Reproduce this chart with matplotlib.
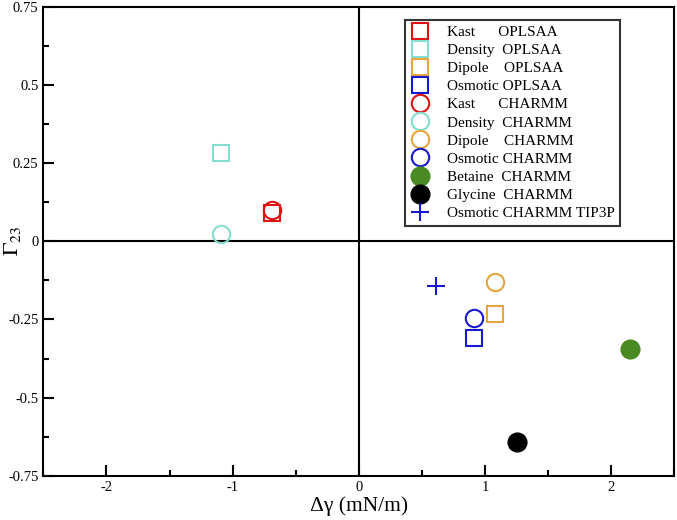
import numpy as np
import matplotlib.pyplot as plt
from matplotlib.ticker import MultipleLocator

plt.rcParams['font.family'] = ['Liberation Serif', 'DejaVu Serif']
plt.rcParams['mathtext.fontset'] = 'stix'

# Donnees
labels = ['Kast      OPLSAA', 'Density  OPLSAA', 'Dipole    OPLSAA', 'Osmotic OPLSAA',
          'Kast      CHARMM', 'Density  CHARMM', 'Dipole    CHARMM', 'Osmotic CHARMM',
          'Betaine  CHARMM', 'Glycine  CHARMM', 'Osmotic CHARMM TIP3P']
dgamma = [-0.69, -1.09, 1.08, 0.91, -0.69, -1.09, 1.08, 0.91, 2.15, 1.25, 0.61]
gamma23 = [0.09, 0.283, -0.232, -0.31, 0.10, 0.022, -0.13, -0.245, -0.344, -0.643, -0.143]
colors = ['#dd1111', '#85dcd0', '#e8a53c', '#1818d0', '#dd1111', '#85dcd0', '#e8a53c',
          '#1818d0', '#4a8a22', 'black', '#1818d0']
markers = ['s', 's', 's', 's', 'o', 'o', 'o', 'o', 'o', 'o', '+']
filled = [False] * 8 + [True, True, False]
sizes = [11, 11, 11, 11, 12.5, 12.5, 12.5, 12.5, 13, 13, 13]

fig = plt.figure(figsize=(6.77, 5.2), dpi=100)
ax = fig.add_axes([0.064, 0.085, 0.932, 0.902])

for x, y, lab, c, m, f, s in zip(dgamma, gamma23, labels, colors, markers, filled, sizes):
    ax.plot([x], [y], linestyle='none', marker=m, markersize=s,
            markerfacecolor=c if f else 'none', markeredgecolor=c,
            markeredgewidth=1.5, label=lab)

ax.axhline(0, color='black', lw=1.5, zorder=0)
ax.axvline(0, color='black', lw=1.5, zorder=0)

ax.set_xlim(-2.5, 2.5)
ax.set_ylim(-0.75, 0.75)
ax.xaxis.set_minor_locator(MultipleLocator(0.5))
ax.yaxis.set_minor_locator(MultipleLocator(0.125))
ax.set_yticks([-0.75, -0.5, -0.25, 0, 0.25, 0.5, 0.75])
ax.set_yticklabels(['-0.75', '-0.5', '-0.25', '0', '0.25', '0.5', '0.75'])
ax.set_xticks([-2, -1, 0, 1, 2])
ax.set_xticklabels(['-2', '-1', '0', '1', '2'])
ax.tick_params(which='both', direction='in', labelsize=10.5, width=1.5)
ax.tick_params(which='major', length=8)
ax.tick_params(which='minor', length=4)
for sp in ax.spines.values():
    sp.set_linewidth(1.5)

ax.set_xlabel('Δγ (mN/m)', fontsize=15.5, labelpad=2)
ax.set_ylabel(r'$\Gamma_{23}$', fontsize=16)
ax.yaxis.set_label_coords(-0.032, 0.5)

leg = ax.legend(loc='upper right', bbox_to_anchor=(0.914, 0.972), borderaxespad=0,
                fontsize=11, frameon=True, fancybox=False, edgecolor='black',
                handletextpad=1.1, labelspacing=0.29, borderpad=0.35, handlelength=1.3)
leg.get_frame().set_linewidth(1.5)

plt.savefig('out.png', dpi=100)
